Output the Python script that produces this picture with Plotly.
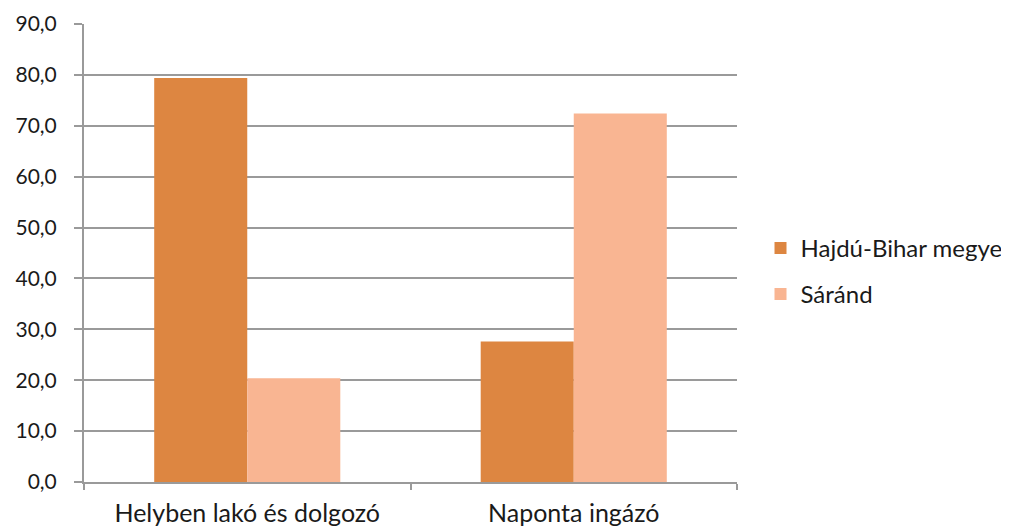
import plotly.graph_objects as go

categories = ["Helyben lakó és dolgozó", "Naponta ingázó"]
series_names = ["Hajdú-Bihar megye", "Sáránd"]
hajdu_values = [79.4, 27.6]
sarand_values = [20.4, 72.4]
y_ticks = [0, 10, 20, 30, 40, 50, 60, 70, 80, 90]

colors = ["#DD8641", "#F9B592"]
font_family = "Lato, 'Noto Sans', sans-serif"

# page body has an 8px margin, so the figure is sized to fill the rest of the window
W, H = 1001, 521

fig = go.Figure()
for name, vals, col in zip(series_names, [hajdu_values, sarand_values], colors):
    fig.add_trace(go.Bar(
        x=categories, y=vals, name=name, legendgroup=name,
        marker=dict(color=col, line=dict(width=0)),
    ))

fig.update_layout(
    width=W, height=H,
    margin=dict(l=76, r=272, t=16, b=47, autoexpand=False),
    paper_bgcolor="white", plot_bgcolor="white",
    barmode="group", bargap=0.43, bargroupgap=0,
    separators=", ",
    font=dict(family=font_family, size=22, color="#1a1a1a"),
    legend=dict(
        x=1.036, xanchor="left", y=0.46, yanchor="middle",
        font=dict(size=24), traceorder="grouped", tracegroupgap=12,
        itemwidth=30,
    ),
    showlegend=True,
)
fig.update_xaxes(
    automargin=False,
    showline=True, linecolor="#9a9a9a", linewidth=2,
    ticks="outside", tickson="boundaries", ticklen=6, tickcolor="#9a9a9a", tickwidth=2,
    showgrid=False, tickfont=dict(size=25), ticklabelstandoff=8,
)
fig.update_yaxes(
    automargin=False,
    range=[0, 90], tickvals=y_ticks, tickformat=".1f",
    showline=True, linecolor="#9a9a9a", linewidth=2,
    showgrid=True, gridcolor="#9a9a9a", gridwidth=2,
    ticks="outside", ticklen=8, tickcolor="#9a9a9a", tickwidth=2,
    zeroline=False, tickfont=dict(size=21), ticklabelstandoff=13,
)

fig.write_html("out.html")
